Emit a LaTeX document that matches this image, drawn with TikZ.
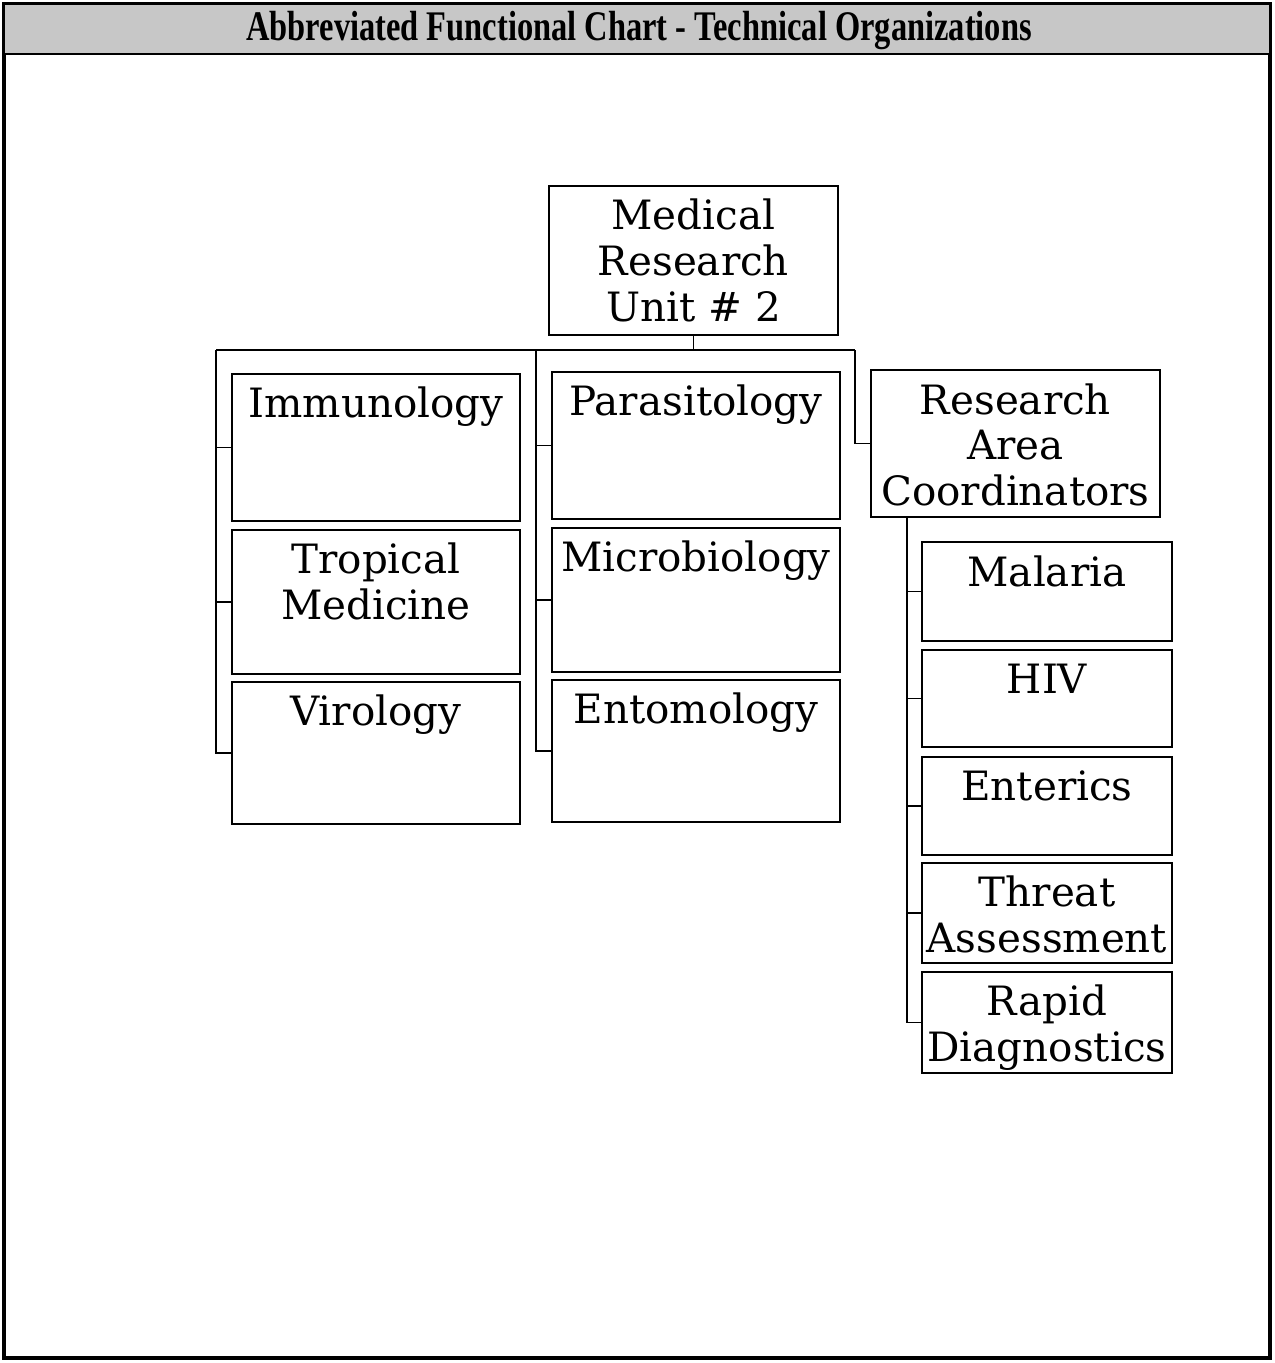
\documentclass[tikz,border=0pt]{standalone}
\usepackage{fontspec}
\setmainfont{DejaVu Serif}
\newfontfamily\titlefont{Liberation Serif}
\usepackage{graphicx}
\usepackage{tikz}
\usetikzlibrary{positioning}

% box text: width, height, lines (first baseline 0.88cm below the top)
\newcommand{\boxlabel}[3]{\parbox[c][#2][t]{#1}{\centering\rule{0pt}{0.88cm}#3}}

\begin{document}
\begin{tikzpicture}[x=0.02cm, y=-0.02cm,
    orgbox/.style={draw, line width=1.1pt, inner sep=0pt, outer sep=0pt,
      anchor=north west, font=\fontsize{23}{26}\selectfont},
    link/.style={draw, line width=0.9pt}]
  \useasboundingbox (0,0) rectangle (1275,1363);
  % Frame and title bar
  \draw[line width=2pt] (4,4) rectangle (1270,1358);
  \draw[fill=black!22, line width=1.2pt] (4,4) rectangle (1270,54);
  \node[font=\titlefont\bfseries\fontsize{24}{26}\selectfont] (title) at (639,31)
    {\scalebox{0.77}[1]{Abbreviated Functional Chart - Technical Organizations}};
  % Head of the unit
  \node[orgbox] (mru) at (549,186) {\boxlabel{5.78cm}{2.98cm}{Medical\\Research\\Unit \# 2}};
  % Left column
  \node[orgbox] (immu) at (232,374) {\boxlabel{5.76cm}{2.94cm}{Immunology}};
  \node[orgbox, below=0.18cm of immu] (trop) {\boxlabel{5.76cm}{2.88cm}{Tropical\\Medicine}};
  \node[orgbox, below=0.16cm of trop] (viro) {\boxlabel{5.76cm}{2.84cm}{Virology}};
  % Middle column
  \node[orgbox] (para) at (552,372) {\boxlabel{5.76cm}{2.94cm}{Parasitology}};
  \node[orgbox, below=0.18cm of para] (micro) {\boxlabel{5.76cm}{2.88cm}{Microbiology}};
  \node[orgbox, below=0.16cm of micro] (ento) {\boxlabel{5.76cm}{2.84cm}{Entomology}};
  % Research area coordinators
  \node[orgbox] (rac) at (871,370) {\boxlabel{5.78cm}{2.94cm}{Research\\Area\\Coordinators}};
  \node[orgbox] (mal) at (922,542) {\boxlabel{5cm}{1.98cm}{Malaria}};
  \node[orgbox, below=0.18cm of mal] (hiv) {\boxlabel{5cm}{1.94cm}{HIV}};
  \node[orgbox, below=0.2cm of hiv] (ent) {\boxlabel{5cm}{1.96cm}{Enterics}};
  \node[orgbox, below=0.16cm of ent] (threat) {\boxlabel{5cm}{2cm}{Threat\\Assessment}};
  \node[orgbox, below=0.18cm of threat] (rapid) {\boxlabel{5cm}{2.02cm}{Rapid\\Diagnostics}};
  % Bus lines
  \coordinate (busL) at (216,350);
  \coordinate (busM) at (536,350);
  \coordinate (busR) at (855,350);
  \coordinate (trunk) at ([xshift=0.72cm]rac.south west);
  \draw[link] (mru.south) |- (busL);
  \draw[link] (mru.south) |- (busR);
  \draw[link] (busL) |- (immu.west);
  \draw[link] (busL) |- (trop.west);
  \draw[link] (busL) |- (viro.west);
  \draw[link] (busM) |- (para.west);
  \draw[link] (busM) |- (micro.west);
  \draw[link] (busM) |- (ento.west);
  \draw[link] (busR) |- (rac.west);
  \draw[link] (trunk) |- (mal.west);
  \draw[link] (trunk) |- (hiv.west);
  \draw[link] (trunk) |- (ent.west);
  \draw[link] (trunk) |- (threat.west);
  \draw[link] (trunk) |- (rapid.west);
\end{tikzpicture}
\end{document}
